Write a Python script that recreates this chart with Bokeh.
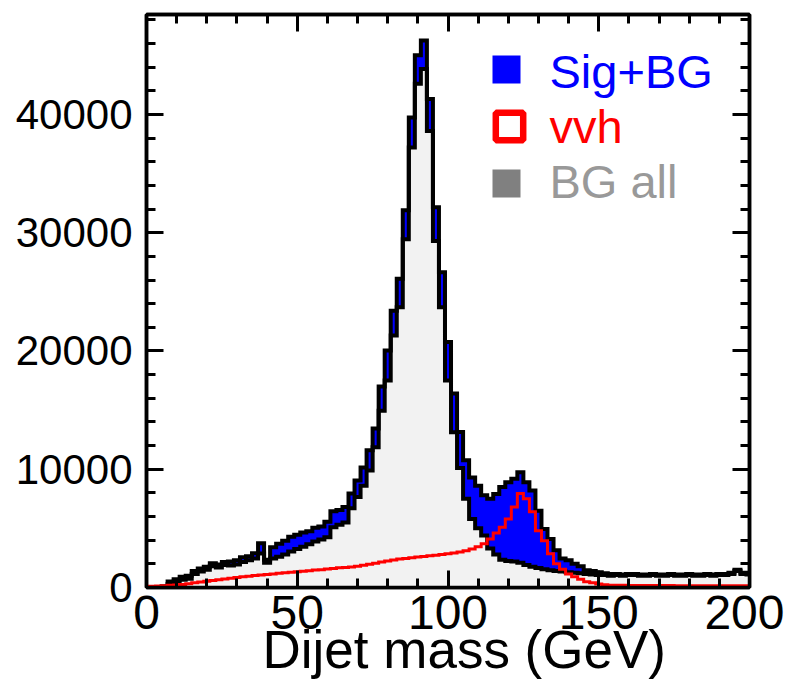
import numpy as np
from bokeh.plotting import figure
from bokeh.models import (Range1d, LinearAxis, SingleIntervalTicker, Label, BoxAnnotation,
                          CustomJSTickFormatter, ColumnDataSource, Title)
from bokeh.embed import file_html
from bokeh.resources import INLINE

# ---------------- data (2 GeV bins, centres in GeV) ----------------
bin_centers = list(range(0, 202, 2))

sig_bg = [
    0, 0, 0, 100, 500, 700, 900, 1000, 1400, 1600,            # 0-18
    1750, 2050, 1950, 2150, 2200, 2300, 2550, 2650, 2900, 3750,  # 20-38
    2350, 3400, 3700, 3950, 4300, 4450, 4650, 4750, 5050, 5150,  # 40-58
    5550, 6450, 6550, 6800, 7950, 9050, 10150, 11600, 13450, 17000,  # 60-78
    20050, 23400, 26100, 31900, 39750, 45000, 46250, 41300, 32150, 26650,  # 80-98
    20750, 16400, 13150, 10750, 9300, 8600, 7800, 7500, 7900, 8500,  # 100-118
    8900, 9200, 9750, 8900, 8200, 6500, 4950, 4100, 3150, 2450,  # 120-138
    2300, 2000, 1800, 1450, 1400, 1300, 1200, 1150, 1150, 1100,  # 140-158
    1150, 1150, 1100, 1100, 1150, 1100, 1100, 1150, 1100, 1100,  # 160-178
    1150, 1100, 1100, 1150, 1100, 1150, 1150, 1250, 1500, 1250,  # 180-198
    1200,                                                        # 200
]

bg_all = [
    0, 0, 0, 50, 300, 500, 650, 750, 1150, 1350,
    1500, 1800, 1700, 1900, 1850, 1950, 2150, 2300, 2450, 2870,
    2100, 2450, 2600, 2800, 3050, 3250, 3450, 3650, 3900, 4050,
    4250, 5100, 5300, 5500, 6700, 7650, 8600, 9900, 11850, 14950,
    17500, 21300, 23700, 29450, 37200, 42600, 43850, 38600, 29300, 23700,
    17500, 13130, 10100, 7500, 5800, 5000, 4400, 3300, 2800, 2350,
    2250, 2200, 2100, 1900, 1750, 1650, 1550, 1450, 1400, 1350,
    1300, 1250, 1200, 1150, 1100, 1050, 1050, 1000, 1050, 1000,
    1050, 1050, 1000, 1000, 1050, 1000, 1000, 1050, 1000, 1000,
    1050, 1000, 1000, 1050, 1000, 1050, 1050, 1150, 1400, 1150,
    1100,
]

vvh = [
    80, 100, 120, 150, 180, 220, 260, 320, 400, 460,
    530, 590, 650, 720, 780, 840, 900, 960, 1010, 1060,
    1100, 1150, 1200, 1240, 1280, 1330, 1380, 1420, 1470, 1510,
    1560, 1610, 1660, 1700, 1740, 1800, 1880, 1960, 2050, 2150,
    2250, 2330, 2400, 2460, 2520, 2570, 2620, 2680, 2720, 2780,
    2850, 2920, 3000, 3100, 3250, 3450, 3700, 4100, 4600, 5100,
    5800, 6800, 7950, 7500, 6400, 4800, 3950, 2850, 2000, 1550,
    1150, 900, 700, 480, 400, 300, 230, 200, 180, 180,
    170, 170, 170, 160, 160, 160, 160, 160, 150, 150,
    150, 150, 150, 150, 150, 150, 150, 150, 150, 150,
    150,
]

legend_labels = ["Sig+BG", "vvh", "BG all"]
x_title = "Dijet mass (GeV)"
x_ticks_interval = 50
y_ticks_interval = 10000

# ---------------- figure ----------------
XMAX, YMAX = 200, 48450
FW, FH = 603, 573
BL, BT = 146, 14

p = figure(frame_width=FW, frame_height=FH,
           x_range=Range1d(0, XMAX), y_range=Range1d(0, YMAX),
           output_backend="svg", toolbar_location=None,
           min_border_left=BL, min_border_right=35,
           min_border_top=BT, min_border_bottom=96)
p.grid.visible = False
p.background_fill_color = "white"
p.border_fill_color = "white"
p.outline_line_color = "black"
p.outline_line_width = 3.5

centers = np.array(bin_centers, dtype=float)
src = ColumnDataSource(dict(x=centers, tot=sig_bg, bg=bg_all, sig=vvh))

p.varea_step(x="x", y1=0, y2="tot", source=src, step_mode="center",
             fill_color="#0000ff")
p.varea_step(x="x", y1=0, y2="bg", source=src, step_mode="center",
             fill_color="#f2f2f2")
p.step(x="x", y="tot", source=src, mode="center", line_color="black",
       line_width=4, line_join="miter")
p.step(x="x", y="bg", source=src, mode="center", line_color="black",
       line_width=4, line_join="miter")
p.step(x="x", y="sig", source=src, mode="center", line_color="#ff0000",
       line_width=3, line_join="miter")

FONT = "Liberation Sans"


def style_axis(ax, show_labels, size):
    ax.axis_line_color = "black"
    ax.axis_line_width = 3.5
    ax.major_tick_line_width = 3
    ax.minor_tick_line_width = 3
    ax.major_tick_in = 17
    ax.major_tick_out = 0
    ax.minor_tick_in = 9
    ax.minor_tick_out = 0
    ax.major_label_text_font = FONT
    if show_labels:
        ax.major_label_text_font_size = size
        ax.major_label_text_color = "black"
    else:
        ax.formatter = CustomJSTickFormatter(code="return ''")
        ax.major_label_text_font_size = "1px"
        ax.major_label_standoff = 0


p.xaxis[0].ticker = SingleIntervalTicker(interval=x_ticks_interval, num_minor_ticks=5)
p.yaxis[0].ticker = SingleIntervalTicker(interval=y_ticks_interval, num_minor_ticks=5)
style_axis(p.xaxis[0], True, "48px")
style_axis(p.yaxis[0], True, "42px")
p.xaxis[0].major_label_standoff = 8
p.yaxis[0].major_label_standoff = 14

top_ax = LinearAxis(ticker=SingleIntervalTicker(interval=x_ticks_interval, num_minor_ticks=5))
right_ax = LinearAxis(ticker=SingleIntervalTicker(interval=y_ticks_interval, num_minor_ticks=5))
style_axis(top_ax, False, None)
style_axis(right_ax, False, None)
p.add_layout(top_ax, "above")
p.add_layout(right_ax, "right")

# x-axis title
p.add_layout(Title(text=x_title, align="left", offset=116, standoff=-28,
                   text_font=FONT, text_font_size="53px", text_font_style="normal",
                   text_color="black"), "below")

# pixel (page) -> data helpers for annotation placement
FL, FT = BL, BT


def px2x(px):
    return (px - FL) / FW * XMAX


def py2y(py):
    return (FT + FH - py) / FH * YMAX


# legend
p.add_layout(BoxAnnotation(left=px2x(492), right=px2x(520), top=py2y(55), bottom=py2y(83),
                           fill_color="#0000ff", fill_alpha=1, line_color=None))
p.add_layout(BoxAnnotation(left=px2x(495.3), right=px2x(522.7), top=py2y(112.3), bottom=py2y(139.7),
                           fill_color="white", fill_alpha=1, line_color="#ff0000",
                           line_alpha=1, line_width=6.5))
p.add_layout(BoxAnnotation(left=px2x(492), right=px2x(520), top=py2y(169), bottom=py2y(197),
                           fill_color="#808080", fill_alpha=1, line_color=None))

leg_colors = ["#0000ff", "#ff0000", "#999999"]
leg_base = [71, 126, 181]
for txt, col, by in zip(legend_labels, leg_colors, leg_base):
    p.add_layout(Label(x=px2x(549), y=py2y(by), text=txt, text_font=FONT,
                       text_font_size="47px", text_color=col,
                       text_align="left", text_baseline="alphabetic"))

open("out.html", "w").write(file_html(p, INLINE))
